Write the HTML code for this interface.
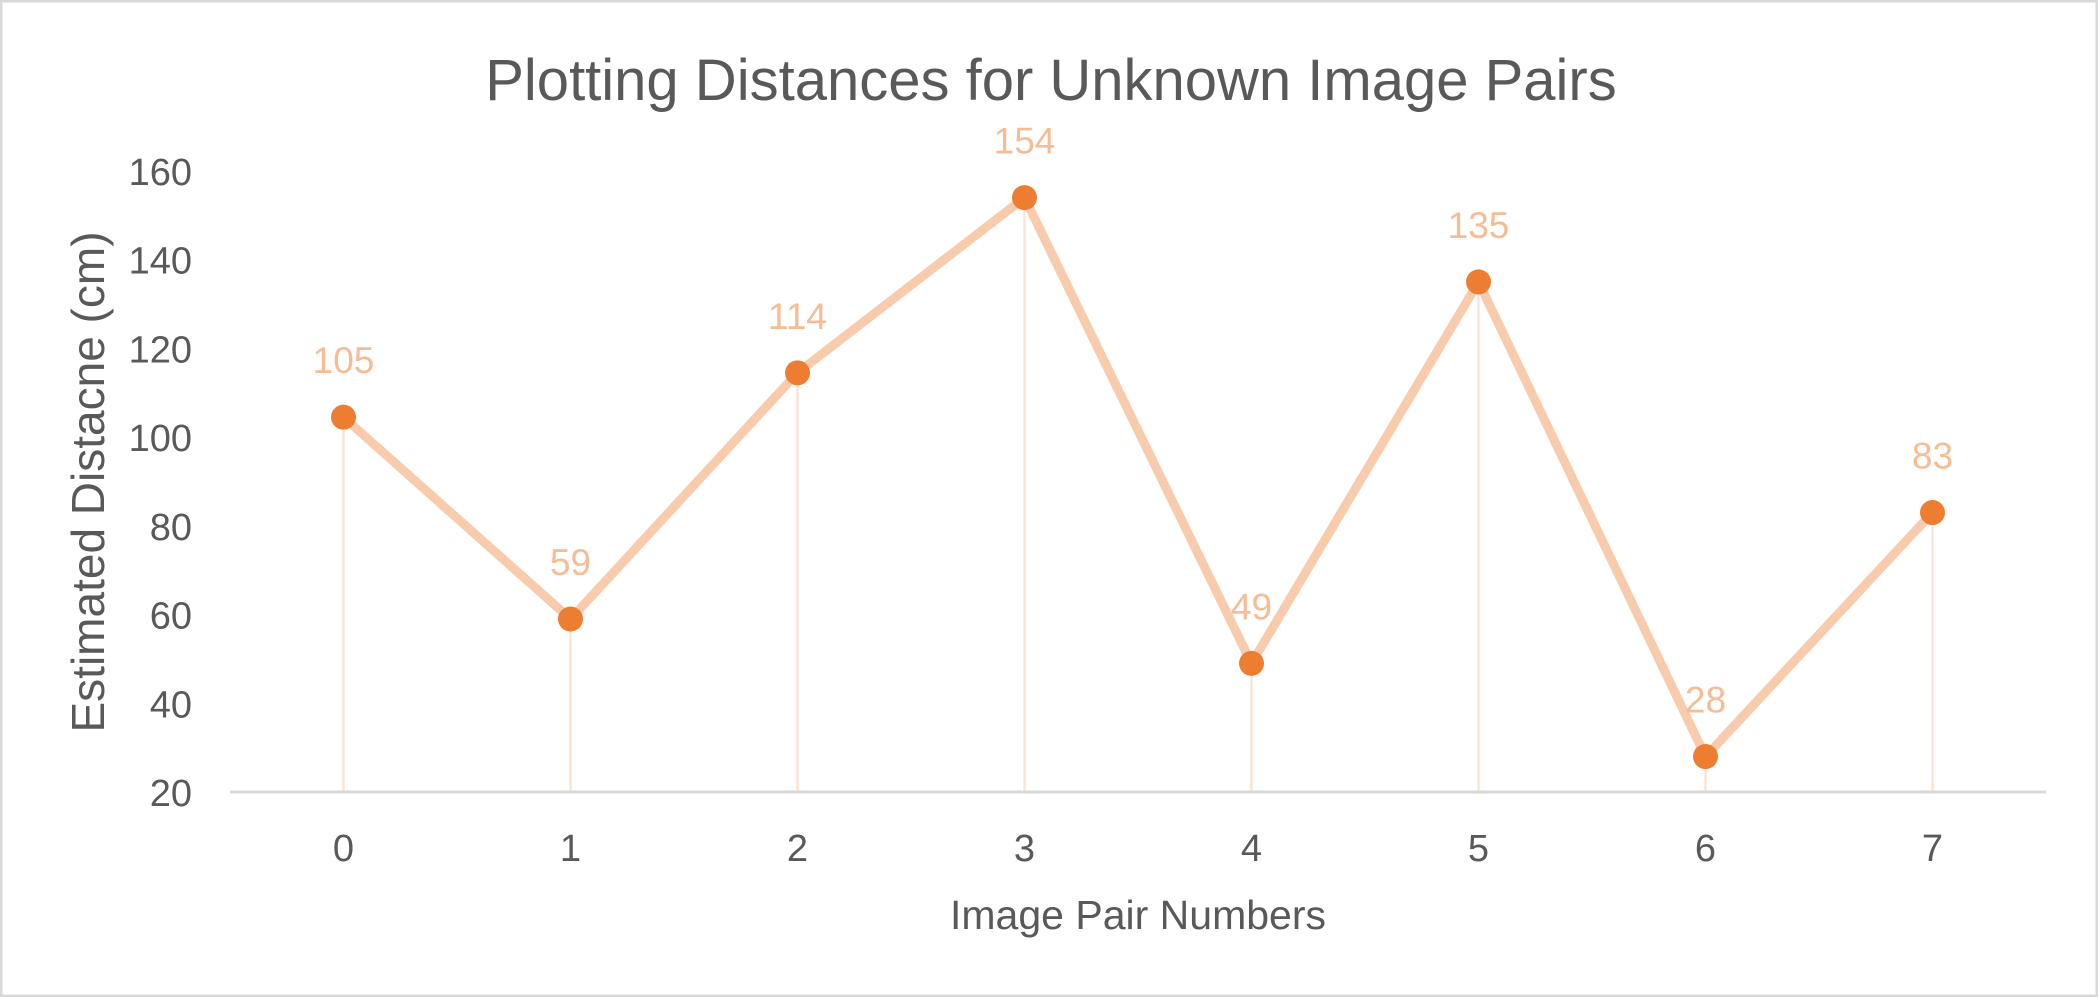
<!DOCTYPE html>
<html><head><meta charset="utf-8"><style>
html,body{margin:0;padding:0;background:#fff}
svg{display:block}
text{font-family:"Liberation Sans",sans-serif}
</style></head><body>
<svg id="chart" width="2098" height="997" viewBox="0 0 2098 997" xmlns="http://www.w3.org/2000/svg">
<rect x="1" y="1" width="2096" height="995" fill="#fff" stroke="#D9D9D9" stroke-width="3"/>
<text x="1051" y="100" text-anchor="middle" font-size="58" fill="#595959">Plotting Distances for Unknown Image Pairs</text>
<text transform="translate(104,482) rotate(-90)" text-anchor="middle" font-size="46" fill="#595959">Estimated Distacne (cm)</text>
<text x="1138" y="929" text-anchor="middle" font-size="41" fill="#595959">Image Pair Numbers</text>
<g id="yticks"></g><g id="xticks"></g><g id="drops"></g>
<line x1="230" y1="792" x2="2046" y2="792" stroke="#D9D9D9" stroke-width="3"/>
<g id="series"></g><g id="labels"></g>
</svg>
<script>
const categories=[0,1,2,3,4,5,6,7];
const values=[104.5,59,114.5,154,49,135,28,83];
const valueLabels=["105","59","114","154","49","135","28","83"];
const yTicks=[20,40,60,80,100,120,140,160];
const NS="http://www.w3.org/2000/svg";
const x0=230,x1=2046,yTop=171,yBot=792,yMin=20,yMax=160;
const xs=i=>x0+(x1-x0)/categories.length*(i+0.5);
const ys=v=>yBot-(v-yMin)/(yMax-yMin)*(yBot-yTop);
function mk(tag,attrs,parent){const e=document.createElementNS(NS,tag);for(const k in attrs)e.setAttribute(k,attrs[k]);document.getElementById(parent).appendChild(e);return e;}
yTicks.forEach(t=>{const e=mk('text',{x:192,y:ys(t)+14,'text-anchor':'end','font-size':38,fill:'#595959'},'yticks');e.textContent=t;

});
categories.forEach((c,i)=>{const e=mk('text',{x:xs(i),y:861,'text-anchor':'middle','font-size':38,fill:'#595959'},'xticks');e.textContent=c;


const d=mk('line',{x1:xs(i),x2:xs(i),y1:ys(values[i]),y2:yBot,stroke:'#FBE5D6','stroke-width':2.5},'drops');

});
const pl=mk('polyline',{points:values.map((v,i)=>xs(i)+','+ys(v)).join(' '),fill:'none',stroke:'#F8CBAD','stroke-width':9,'stroke-linejoin':'miter'},'series');


values.forEach((v,i)=>{const c=mk('circle',{cx:xs(i),cy:ys(v),r:12.5,fill:'#ED7D31'},'series');


const t=mk('text',{x:xs(i),y:ys(v)-44,'text-anchor':'middle','font-size':37,fill:'#F6BC94'},'labels');t.textContent=valueLabels[i];

});
</script>
</body></html>
